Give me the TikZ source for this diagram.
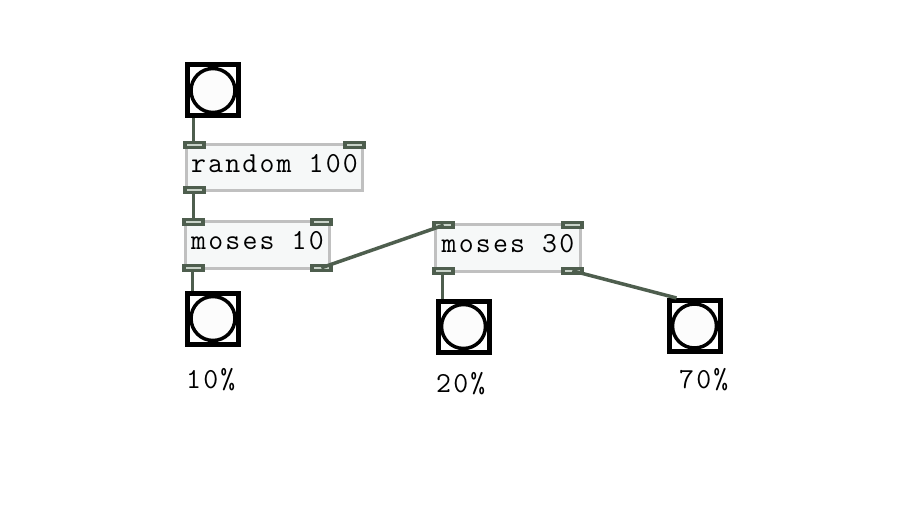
\documentclass[tikz,border=0pt]{standalone}
\usepackage{fontspec}
\newfontfamily\pdfont[LetterSpace=7.5]{Latin Modern Mono}
\usetikzlibrary{calc}
\definecolor{wire}{HTML}{4E5E4E}
\definecolor{objborder}{HTML}{C0C0C0}
\definecolor{objfill}{HTML}{F6F8F8}
\definecolor{inletline}{HTML}{C8D2C8}
\definecolor{bangfill}{HTML}{FCFCFC}
\tikzset{
  obj/.style={draw=objborder, line width=3.5pt, fill=objfill, inner sep=0pt,
    font=\pdfont\fontsize{29}{29}\selectfont, text=black, text height=20pt, text depth=11pt},
  inlet/.style={rectangle, fill=wire, minimum width=23pt, minimum height=8pt, inner sep=0pt,
    path picture={\draw[line width=1.5pt, inletline]
      ([xshift=4pt]path picture bounding box.west) -- ([xshift=-4pt]path picture bounding box.east);}},
  bang/.style={rectangle, draw=black, line width=5pt, fill=white, minimum size=51pt, inner sep=0pt,
    path picture={\draw[line width=3.5pt, fill=bangfill] (path picture bounding box.center) circle (22pt);}},
  wireline/.style={draw=wire, line width=3.5pt},
  lbl/.style={font=\pdfont\fontsize{29}{29}\selectfont, text=black, anchor=west, inner sep=0pt}
}
\begin{document}
\begin{tikzpicture}[x=1pt,y=-1pt]
\useasboundingbox[fill=white] (0,0) rectangle (922,519);

% objects
\node[obj, minimum width=176pt, minimum height=46pt] (r) at (274.5,167.5) {random 100};
\node[obj, minimum width=144pt, minimum height=47pt] (m1) at (257.5,245) {moses 10};
\node[obj, minimum width=145pt, minimum height=47pt] (m2) at (508,248) {moses 30};

% inlets / outlets
\foreach \o in {r,m1,m2}{
  \node[inlet, anchor=north west] (\o-i0) at ($(\o.north west)+(-1.75,-1.75)$) {};
  \node[inlet, anchor=north east] (\o-i1) at ($(\o.north east)+(1.75,-1.75)$) {};
  \node[inlet, anchor=south west] (\o-o0) at ($(\o.south west)+(-1.75,1.75)$) {};
}
\node[inlet, anchor=south east] (m1-o1) at ($(m1.south east)+(1.75,1.75)$) {};
\node[inlet, anchor=south east] (m2-o1) at ($(m2.south east)+(1.75,1.75)$) {};

% bangs
\node[bang] (b1) at (213,90.5) {};
\node[bang] (b2) at (213,318.5) {};
\node[bang] (b3) at (463.5,326.5) {};
\node[bang] (b4) at (694.5,326) {};

% wires
\draw[wireline] ([xshift=-1pt]r-i0.north |- b1.south) -- ([xshift=-1pt]r-i0.north);
\draw[wireline] ([xshift=-1pt]r-o0.south) -- ([xshift=-1pt]r-o0.south |- m1-i0.north);
\draw[wireline] ([xshift=-1pt]m1-o0.south) -- ([xshift=-1pt]m1-o0.south |- b2.north);
\draw[wireline] (m1-o1.center) -- (m2-i0.center);
\draw[wireline] ([xshift=-1pt]m2-o0.south) -- ([xshift=-1pt]m2-o0.south |- b3.north);
\draw[wireline] (m2-o1.center) -- ($(b4.north west)+(10,0)$);

% labels
\node[lbl] (l1) at (186,380) {10\%};
\node[lbl] (l2) at (436,384) {20\%};
\node[lbl] (l3) at (679,380) {70\%};
\end{tikzpicture}
\end{document}
